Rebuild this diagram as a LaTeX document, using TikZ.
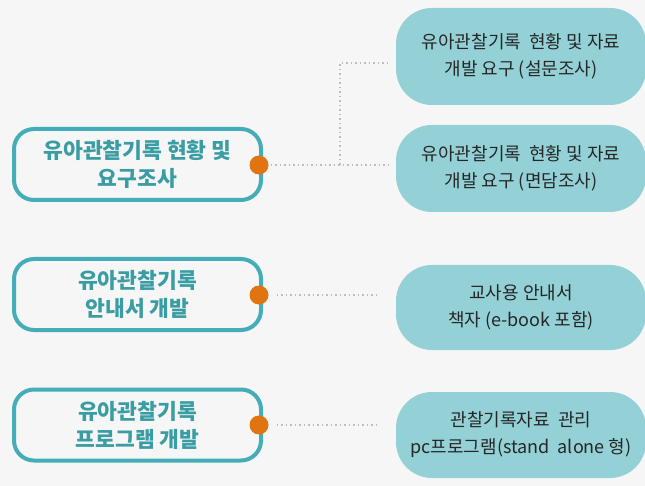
\documentclass[tikz,border=0pt]{standalone}
\usepackage{fontspec}
\setmainfont{Noto Sans CJK KR}
\definecolor{bgc}{HTML}{F6F6F6}
\definecolor{tealline}{HTML}{45ADB7}
\definecolor{tealtext}{HTML}{3A9DA4}
\definecolor{rfill}{HTML}{94D1D6}
\definecolor{dotc}{HTML}{E07410}
\definecolor{connc}{HTML}{BDBDBD}
\definecolor{darktext}{HTML}{262626}
\tikzset{
  leftbox/.style={draw=tealline, line width=4pt, fill=bgc, rounded corners=20pt,
    minimum width=247pt, minimum height=71pt, align=center, text=tealtext,
    font=\fontsize{21.5}{28}\selectfont\bfseries, inner sep=0pt},
  rightbox/.style={fill=rfill, rounded corners=36pt, minimum width=250pt,
    align=center, text=darktext, font=\fontsize{18}{27}\selectfont, inner sep=0pt},
  conn/.style={draw=connc, line width=1.7pt, dash pattern=on 1.5pt off 3pt},
  knob/.style={circle, fill=dotc, minimum size=19pt, inner sep=0pt}
}
\begin{document}
\begin{tikzpicture}[x=1pt,y=-1pt]
\useasboundingbox[fill=bgc] (0,0) rectangle (645,486);
% left boxes
\node[leftbox] (b1) at (137.5,164.5) {유아관찰기록 현황 및\\요구조사};
\node[leftbox] (b2) at (137.5,294.5) {유아관찰기록\\안내서 개발};
\node[leftbox] (b3) at (137.5,425) {유아관찰기록\\프로그램 개발};
% right boxes
\node[rightbox, minimum height=97pt] (r1) at (521,56.5) {유아관찰기록\ \ 현황 및 자료\\개발\ 요구 (설문조사)};
\node[rightbox, minimum height=87pt] (r2) at (521,168.5) {유아관찰기록\ \ 현황 및 자료\\개발\ 요구 (면담조사)};
\node[rightbox, minimum height=85pt] (r3) at (521,307.5) {교사용 안내서\\책자 (e-book 포함)};
\node[rightbox, minimum height=86pt] (r4) at (521,435) {관찰기록자료\ \ 관리\\pc프로그램(stand\ \ alone 형)};
% knobs
\node[knob] (k1) at (259,165) {};
\node[knob] (k2) at (259,295) {};
\node[knob] (k3) at (259,425) {};
% connectors
\coordinate (j1) at (340,165);
\coordinate (j2) at (340,63);
\coordinate (e1) at (390,63);
\coordinate (e2) at (390,165);
\coordinate (e3) at (378,295);
\coordinate (e4) at (380,425);
\draw[conn, shorten <=2pt] (k1.east) -- (e2);
\draw[conn] (j1) -- (j2) -- (e1);
\draw[conn, shorten <=8pt] (k2.east) -- (e3);
\draw[conn, shorten <=8pt] (k3.east) -- (e4);
\end{tikzpicture}
\end{document}
